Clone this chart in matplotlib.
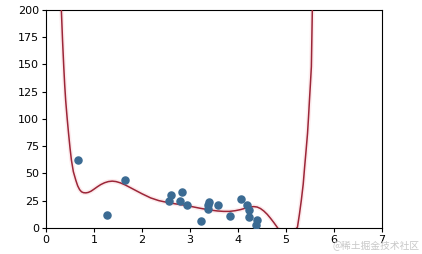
import numpy as np
import matplotlib
matplotlib.use("Agg")
import matplotlib.pyplot as plt

# scatter data
pts_x = [0.67, 1.28, 1.64, 2.56, 2.61, 2.79, 2.83, 2.93, 3.23, 3.37, 3.37, 3.39,
         3.58, 3.83, 4.07, 4.18, 4.22, 4.24, 4.38, 4.40]
pts_y = [62.0, 11.5, 43.5, 24.5, 30.0, 24.5, 32.5, 20.8, 5.9, 17.5, 20.5, 24.0,
         20.6, 10.6, 26.5, 20.6, 10.2, 16.5, 2.8, 7.0]

# fitted curve
curve_x = [0.32, 0.345, 0.37, 0.39, 0.41, 0.44, 0.47, 0.50, 0.53, 0.57, 0.62,
           0.66, 0.70, 0.74, 0.78, 0.83, 0.88, 0.94, 1.00, 1.07, 1.14, 1.22,
           1.30, 1.38, 1.46, 1.55, 1.65, 1.75, 1.87, 2.00, 2.18, 2.35, 2.53,
           2.70, 2.87, 3.05, 3.22, 3.40, 3.57, 3.70, 3.82, 3.94, 4.06, 4.16,
           4.25, 4.33, 4.40, 4.47, 4.54, 4.61, 4.68, 4.75, 4.81, 4.88, 4.95,
           5.02, 5.08, 5.14, 5.19, 5.24, 5.28, 5.32, 5.36, 5.39, 5.42, 5.45,
           5.47, 5.49, 5.51, 5.53, 5.55, 5.57]
curve_y = [200, 172, 148, 131, 117, 101, 86.7, 73.5, 62, 51.5, 43.8,
           38.5, 35.0, 33.0, 32.2, 32.0, 32.4, 33.6, 35.4, 37.6, 39.6, 41.3,
           42.4, 42.8, 42.4, 41.2, 39.3, 37.0, 34.2, 31.2, 27.4, 24.9, 23.2,
           21.9, 20.8, 19.3, 17.8, 16.4, 15.4, 15.0, 15.0, 15.6, 16.7, 18.0,
           19.0, 19.4, 19.0, 17.6, 15.3, 12.3, 8.6, 4.6, 0.9, -3.5, -7,
           -9, -8, -5, -2, 0.5, 12, 25, 40, 56, 71, 86.7,
           101, 117, 132, 148, 200, 240]

fig = plt.figure(figsize=(4.22, 2.54), dpi=100)
ax = fig.add_axes([0.109, 0.1035, 0.796, 0.857])

ax.plot(curve_x, curve_y, color='#e8606e', linewidth=3.2, alpha=0.13, zorder=2,
        solid_joinstyle='round')
ax.plot(curve_x, curve_y, color='#9c2638', linewidth=1.1, zorder=3,
        solid_joinstyle='round')
ax.scatter(pts_x, pts_y, s=26, color='#3b6b93', zorder=4)

ax.set_xlim(0, 7)
ax.set_ylim(0, 200)
ax.set_xticks(range(0, 8))
ax.set_yticks(range(0, 201, 25))
ax.tick_params(labelsize=8, length=3, width=0.8, pad=2)
for s in ax.spines.values():
    s.set_linewidth(0.8)

fig.text(0.995, 0.01, '@稀土掘金技术社区', ha='right', va='bottom', fontsize=7,
         color='#c8c8c8', family=['Noto Sans CJK SC', 'DejaVu Sans'])

fig.savefig('out.png', dpi=100)
